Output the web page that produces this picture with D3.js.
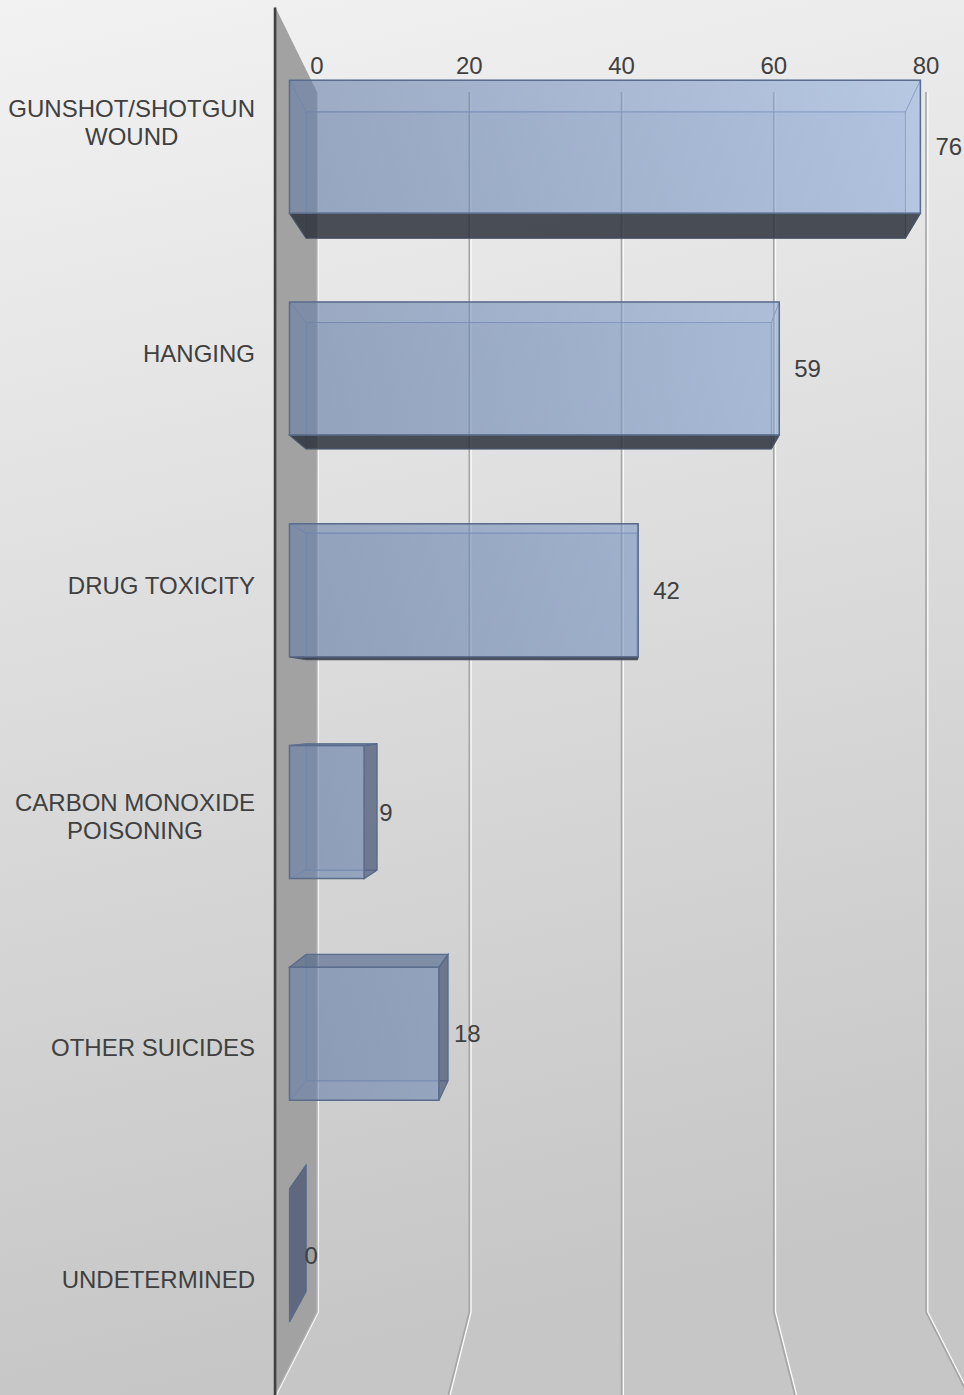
<!DOCTYPE html>
<html><head><meta charset="utf-8">
<script src="https://cdn.jsdelivr.net/npm/d3@7"></script>
<style>html,body{margin:0;padding:0;background:#fff}svg{display:block}</style>
</head><body>
<script>
// ---- data ----
const categories = ["GUNSHOT/SHOTGUN\nWOUND", "HANGING", "DRUG TOXICITY", "CARBON MONOXIDE\nPOISONING", "OTHER SUICIDES", "UNDETERMINED"];
const values = [76, 59, 42, 9, 18, 0];
const tickValues = [0, 20, 40, 60, 80];

// ---- layout ----
const W = 964, H = 1395;
const VX = 621, VY = 711;               // vanishing point
const S_BAR_BACK = 1.036, S_BAR_FRONT = 1.0905, S_WALL_FRONT = 1.138;
const FONT = "'Liberation Sans', Arial, sans-serif";
const TXT = "#404040";

const x = d3.scaleLinear().domain([0, 80]).range([317, 926]);
const y = d3.scaleBand().domain(categories).range([92, 1312]).paddingInner(0.4).paddingOuter(0.2);
const proj = (xw, yw, s) => [VX + (xw - VX) * s, VY + (yw - VY) * s];
const poly = pts => "M" + pts.map(p => p[0].toFixed(2) + "," + p[1].toFixed(2)).join("L") + "Z";

const svg = d3.select("body").append("svg").attr("width", W).attr("height", H);
const defs = svg.append("defs");
const bg = defs.append("linearGradient").attr("id", "bg").attr("x1", 0).attr("y1", 0).attr("x2", 0.15).attr("y2", 1);
bg.append("stop").attr("offset", 0).attr("stop-color", "#f2f2f2");
bg.append("stop").attr("offset", 1).attr("stop-color", "#c6c6c6");
const bar = defs.append("linearGradient").attr("id", "barGrad").attr("gradientUnits", "userSpaceOnUse")
  .attr("x1", 290).attr("y1", 0).attr("x2", 930).attr("y2", 0);
bar.append("stop").attr("offset", 0).attr("stop-color", "rgb(102,126,168)");
bar.append("stop").attr("offset", 1).attr("stop-color", "rgb(150,178,222)");

svg.append("rect").attr("width", W).attr("height", H).attr("fill", "url(#bg)");

const yTop = y.range()[0], yBot = y.range()[1];

// gridlines (back wall + floor)
const gridPath = t => {
  const xb = x(t), f = proj(xb, yBot, S_WALL_FRONT);
  return `M${xb},${yTop}L${xb},${yBot}L${f[0]},${f[1]}`;
};
const grid = svg.append("g");
grid.selectAll("path.w").data(tickValues.slice(1)).join("path").attr("class", "w")
  .attr("d", gridPath).attr("transform", "translate(1.8,0)")
  .attr("fill", "none").attr("stroke", "#fbfbfb").attr("stroke-width", 1.3);
grid.selectAll("path.g").data(tickValues.slice(1)).join("path").attr("class", "g")
  .attr("d", gridPath).attr("fill", "none").attr("stroke", "#a6a6a6").attr("stroke-width", 1.6);

// left wall
const x0 = x(0);
svg.append("path").attr("d", poly([
  [x0, yTop], [x0, yBot], proj(x0, yBot, S_WALL_FRONT), proj(x0, yTop, S_WALL_FRONT)
])).attr("fill", "#a2a2a2");
svg.append("path").attr("d", gridPath(0)).attr("transform", "translate(1.4,0)")
  .attr("fill", "none").attr("stroke", "#f4f4f4").attr("stroke-width", 1.3);
svg.append("path").attr("d", gridPath(0))
  .attr("fill", "none").attr("stroke", "#b4b4b4").attr("stroke-width", 1.2);
// axis line (front edge of wall)
const axTop = proj(x0, yTop, S_WALL_FRONT);
svg.append("line").attr("x1", axTop[0]).attr("x2", axTop[0]).attr("y1", axTop[1] + 1).attr("y2", H)
  .attr("stroke", "#404040").attr("stroke-width", 2.6);

// bars
const data = categories.map((c, i) => ({c, v: values[i]}));
const barsG = svg.append("g");
data.forEach(d => {
  const xa = x(0), xb = x(d.v), ya = y(d.c), yb = ya + y.bandwidth();
  const P = (xx, yy, s) => proj(xx, yy, s);
  const sb = S_BAR_BACK, sf = S_BAR_FRONT;
  const faces = {
    back: [P(xa, ya, sb), P(xb, ya, sb), P(xb, yb, sb), P(xa, yb, sb)],
    front: [P(xa, ya, sf), P(xb, ya, sf), P(xb, yb, sf), P(xa, yb, sf)],
    top: [P(xa, ya, sb), P(xb, ya, sb), P(xb, ya, sf), P(xa, ya, sf)],
    bottom: [P(xa, yb, sb), P(xb, yb, sb), P(xb, yb, sf), P(xa, yb, sf)],
    right: [P(xb, ya, sb), P(xb, yb, sb), P(xb, yb, sf), P(xb, ya, sf)],
    left: [P(xa, ya, sb), P(xa, yb, sb), P(xa, yb, sf), P(xa, ya, sf)]
  };
  const g = barsG.append("g");
  const topVis = ya > VY, botVis = yb < VY, rightVis = xb < VX;
  // hidden faces (seen through translucent front)
  const hidden = ["back", "left"];
  if (!topVis) hidden.push("top");
  if (!botVis) hidden.push("bottom");
  if (!rightVis) hidden.push("right");
  hidden.forEach(k => g.append("path").attr("d", poly(faces[k]))
    .attr("fill", k === "back" ? "rgba(90,115,160,0.10)" : "none")
    .attr("stroke", "#7f91b0").attr("stroke-opacity", 0.75).attr("stroke-width", 1));
  if (topVis) g.append("path").attr("d", poly(faces.top)).attr("fill", "rgba(70,95,135,0.55)")
    .attr("stroke", "#5b6d8c").attr("stroke-width", 1.2);
  if (botVis) g.append("path").attr("d", poly(faces.bottom)).attr("fill", "rgba(40,45,55,0.82)")
    .attr("stroke", "#4a5568").attr("stroke-width", 1.2);
  if (rightVis) g.append("path").attr("d", poly(faces.right)).attr("fill", "rgba(50,65,100,0.6)")
    .attr("stroke", "#5b6d8c").attr("stroke-width", 1.2);
  if (d.v > 0) g.append("path").attr("d", poly(faces.front)).attr("fill", "url(#barGrad)").attr("fill-opacity", 0.6)
    .attr("stroke", "#5b6d8c").attr("stroke-width", 1.5);
  // data label
  const fr = P(xb, (ya + yb) / 2, sf);
  svg.append("text").attr("x", fr[0] + 15).attr("y", fr[1]).attr("dominant-baseline", "central")
    .attr("font-family", FONT).attr("font-size", 24).attr("fill", TXT).text(d.v);
});

// tick labels
svg.append("g").selectAll("text").data(tickValues).join("text")
  .attr("x", d => x(d)).attr("y", 65).attr("text-anchor", "middle").attr("dominant-baseline", "central")
  .attr("font-family", FONT).attr("font-size", 24).attr("fill", TXT).text(d => d);

// category labels
const labG = svg.append("g");
categories.forEach(c => {
  const lines = c.split("\n");
  const cy = proj(x0, y(c) + y.bandwidth() / 2, S_WALL_FRONT)[1];
  const g = labG.append("g");
  const ts = lines.map((l, i) => g.append("text")
    .attr("y", cy + (i - (lines.length - 1) / 2) * 28)
    .attr("dominant-baseline", "central").attr("text-anchor", "middle")
    .attr("font-family", FONT).attr("font-size", 24).attr("fill", TXT).text(l));
  const maxW = d3.max(ts, t => t.node().getComputedTextLength());
  ts.forEach(t => t.attr("x", 255 - maxW / 2));
});
</script>
</body></html>
